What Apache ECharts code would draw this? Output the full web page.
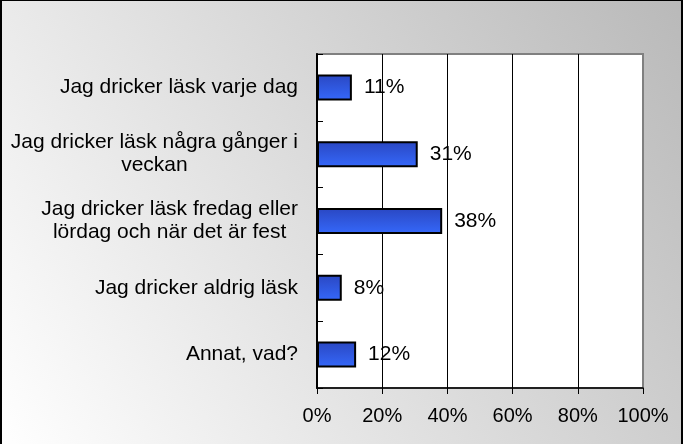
<!DOCTYPE html>
<html>
<head>
<meta charset="utf-8">
<script src="https://cdn.jsdelivr.net/npm/echarts@6/dist/echarts.min.js"></script>
<style>
html,body{margin:0;padding:0;}
#wrap{position:relative;width:683px;height:444px;}
#chart{position:absolute;left:0;top:0;width:683px;height:444px;}
#frame{position:absolute;left:0;top:0;width:683px;height:444px;box-sizing:border-box;border-left:2px solid #000;border-top:1px solid #000;border-right:2px solid #000;pointer-events:none;}
</style>
</head>
<body>
<div id="wrap"><div id="chart"></div><div id="frame"></div></div>
<script>
const categories = [
  'Jag dricker läsk varje dag',
  'Jag dricker läsk några gånger i\nveckan',
  'Jag dricker läsk fredag eller\nlördag och när det är fest',
  'Jag dricker aldrig läsk',
  'Annat, vad?'
];
const values = [10.7, 30.9, 38.4, 7.6, 12.0];
const xTicks = [0, 20, 40, 60, 80, 100];

const FONT = '"Liberation Sans", Arial, sans-serif';
const chart = echarts.init(document.getElementById('chart'));
chart.setOption({
  animation: false,
  backgroundColor: new echarts.graphic.LinearGradient(0, 1, 1, 0, [
    {offset: 0, color: '#ffffff'},
    {offset: 1, color: '#b9b9b9'}
  ]),
  grid: {
    left: 317, right: 40, top: 54, bottom: 56,
    show: true, backgroundColor: '#ffffff', borderColor: '#808080', borderWidth: 2
  },
  xAxis: {
    type: 'value', min: xTicks[0], max: xTicks[xTicks.length - 1], interval: xTicks[1] - xTicks[0],
    axisLine: {show: true, lineStyle: {color: '#000', width: 1.5}},
    axisTick: {show: true, length: 6, lineStyle: {color: '#000'}},
    splitLine: {show: true, showMinLine: false, showMaxLine: false, lineStyle: {color: '#000', width: 1}},
    axisLabel: {formatter: '{value}%', color: '#000', fontSize: 20, fontFamily: FONT, margin: 18}
  },
  yAxis: {
    type: 'category', inverse: true, data: categories,
    axisLine: {show: true, lineStyle: {color: '#000', width: 2}},
    axisTick: {show: true, inside: true, length: 6, lineStyle: {color: '#000'}},
    axisLabel: {
      color: '#000', fontSize: 21, fontFamily: FONT, margin: 19, lineHeight: 23,
      formatter: v => v.split('\n').map(l => '{c|' + l + '}').join('\n'),
      rich: {c: {align: 'center', fontSize: 21, fontFamily: FONT, color: '#000', lineHeight: 23}}
    }
  },
  series: [{
    type: 'bar', data: values, barWidth: 26,
    itemStyle: {
      color: new echarts.graphic.LinearGradient(0, 0, 0, 1, [
        {offset: 0, color: '#2a47c2'},
        {offset: 1, color: '#3568fa'}
      ]),
      borderColor: '#000', borderWidth: 2
    },
    label: {
      show: true, position: 'right', distance: 12, color: '#000', fontSize: 21, fontFamily: FONT,
      formatter: p => Math.round(p.value) + '%'
    }
  }]
});
</script>
</body>
</html>
